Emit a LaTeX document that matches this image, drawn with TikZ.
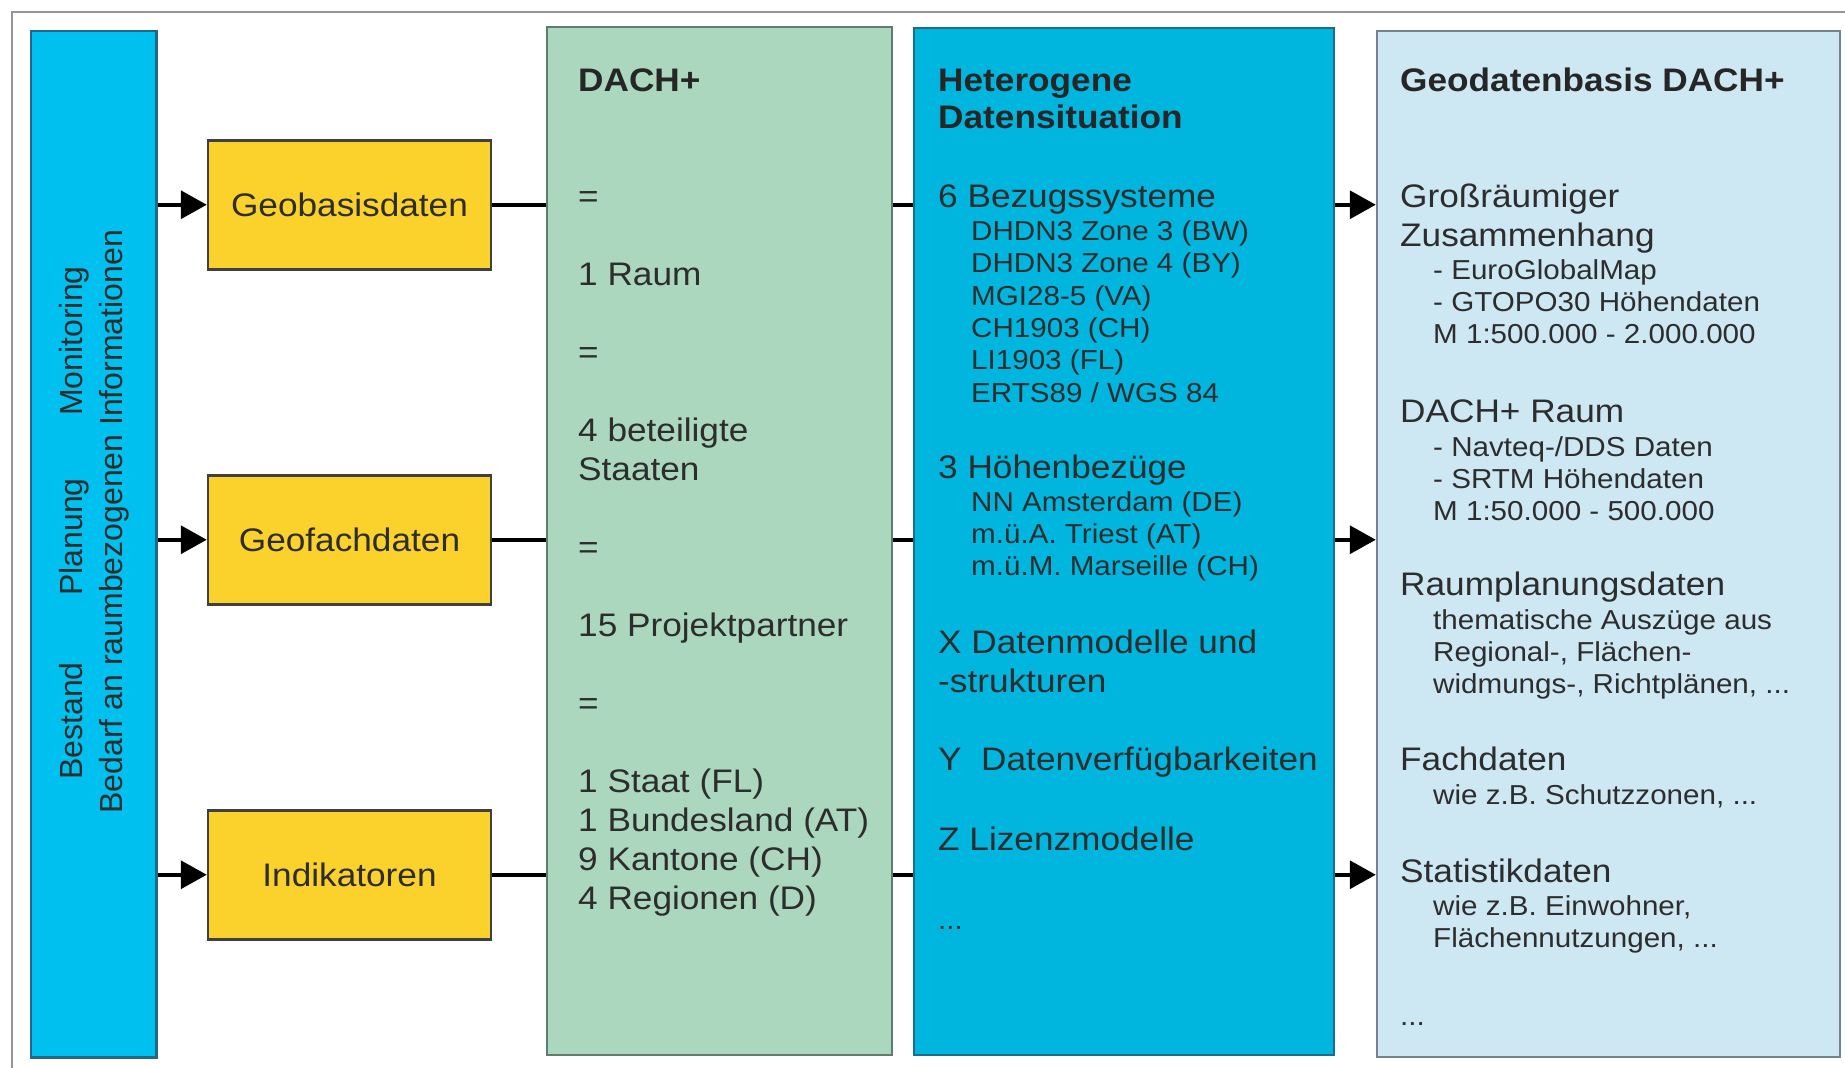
\documentclass[tikz,border=0pt]{standalone}
\usepackage{fontspec}
\setmainfont{Liberation Sans}[FakeStretch=1.08]
\newfontfamily\upfont{Liberation Sans}
\usepackage{xcolor}
\usepackage{tikz}
\usetikzlibrary{arrows.meta,positioning}

\definecolor{barblue}{RGB}{0,192,240}
\definecolor{barline}{RGB}{35,105,135}
\definecolor{geoyellow}{RGB}{251,209,43}
\definecolor{dachgreen}{RGB}{170,215,190}
\definecolor{dachline}{RGB}{95,125,110}
\definecolor{hetcyan}{RGB}{0,182,222}
\definecolor{hetline}{RGB}{25,110,140}
\definecolor{basislight}{RGB}{205,231,243}
\definecolor{basisline}{RGB}{115,130,140}
\definecolor{txtgray}{RGB}{45,45,45}
\definecolor{framegray}{RGB}{150,150,150}

\tikzset{
  tallbox/.style={draw, line width=2.5pt, inner sep=0pt},
  datbox/.style={draw=black!75, fill=geoyellow, line width=2.5pt, minimum width=283pt,
    minimum height=129pt, text=txtgray, font=\fontsize{32.6}{39}\selectfont},
  txt/.style={anchor=base west, inner sep=0pt, align=left, text=txtgray,
    font=\fontsize{32.6}{39}\selectfont},
  sub/.style={txt, font=\fontsize{27.4}{32.3}\selectfont},
  head/.style={txt, text=black!85, font=\bfseries\fontsize{32.6}{37.5}\selectfont},
  upright/.style={anchor=base, inner sep=0pt, rotate=90, text=txtgray,
    font=\upfont\fontsize{32}{38}\selectfont}
}

\begin{document}
\begin{tikzpicture}[x=1pt,y=-1pt,node distance=335pt,on grid,>={Triangle[length=26pt,width=28pt]},
    every edge/.style={draw, line width=3.5pt}]
   \useasboundingbox (0,0) rectangle (1845,1068);
   \clip (0,0) rectangle (1845,1068);
   \draw[framegray, line width=2pt] (12,12) rectangle (1900,1100);

   % columns
   \node[tallbox, fill=barblue, draw=barline, minimum width=125.5pt, minimum height=1026.5pt] (bar) at (93.75,544) {};
   \node[tallbox, fill=dachgreen, draw=dachline, minimum width=345pt, minimum height=1028pt] (dach) at (719.5,541) {};
   \node[tallbox, fill=hetcyan, draw=hetline, minimum width=420pt, minimum height=1027pt] (het) at (1124,541.5) {};
   \node[tallbox, fill=basislight, draw=basisline, minimum width=463pt, minimum height=1026pt] (basis) at (1608.5,544) {};

   \node[datbox] (geobasis) at (349.5,204.75) {Geobasisdaten};
   \node[datbox] (geofach) [below=of geobasis] {Geofachdaten};
   \node[datbox] (indik) [below=of geofach] {Indikatoren};

   % blue bar
   \node[upright] (bestand) at (82,721) {Bestand};
   \node[upright] (planung) at (82,537) {Planung};
   \node[upright] (monitor) at (82,341) {Monitoring};
   \node[upright] (bedarf) at (122,521.7) {Bedarf an raumbezogenen Informationen};

   % DACH+ (multi-line nodes sit on the base of their last line)
   \node[head] (dachhead) at (578,91) {DACH+};
   \node[txt] (dachtext) at (578,909.5) {=\\[39pt]1 Raum\\[39pt]=\\[39pt]4 beteiligte\\Staaten\\[39pt]=\\[39pt]15 Projektpartner\\[39pt]=\\[39pt]1 Staat (FL)\\1 Bundesland (AT)\\9 Kantone (CH)\\4 Regionen (D)};

   % Heterogene Datensituation
   \node[head] (hethead) at (938,128.5) {Heterogene\\Datensituation};
   \node[txt] (bezug) at (938,207.5) {6 Bezugssysteme};
   \node[sub] (bezuglist) at (971,402) {DHDN3 Zone 3 (BW)\\DHDN3 Zone 4 (BY)\\MGI28-5 (VA)\\CH1903 (CH)\\LI1903 (FL)\\ERTS89 / WGS 84};
   \node[txt] (hoehe) at (938,478.5) {3 Höhenbezüge};
   \node[sub] (hoehelist) at (971,575.6) {NN Amsterdam (DE)\\m.ü.A. Triest (AT)\\m.ü.M. Marseille (CH)};
   \node[txt] (modelle) at (938,692.5) {X Datenmodelle und\\-strukturen};
   \node[txt] (verfueg) at (938,770.5) {Y\ \ Datenverfügbarkeiten};
   \node[txt] (lizenz) at (938,850.5) {Z Lizenzmodelle};
   \node[sub] (hetdots) at (938,929) {...};

   % Geodatenbasis DACH+
   \node[head] (basishead) at (1400,91) {Geodatenbasis DACH+};
   \node[txt] (gross) at (1400,246.5) {Großräumiger\\Zusammenhang};
   \node[sub] (grosslist) at (1433,343.6) {- EuroGlobalMap\\- GTOPO30 Höhendaten\\M 1:500.000 - 2.000.000};
   \node[txt] (raum) at (1400,422) {DACH+ Raum};
   \node[sub] (raumlist) at (1433,520.6) {- Navteq-/DDS Daten\\- SRTM Höhendaten\\M 1:50.000 - 500.000};
   \node[txt] (planda) at (1400,595) {Raumplanungsdaten};
   \node[sub] (plandalist) at (1433,693.6) {thematische Auszüge aus\\Regional-, Flächen-\\widmungs-, Richtplänen, ...};
   \node[txt] (fach) at (1400,770.5) {Fachdaten};
   \node[sub] (fachlist) at (1433,804) {wie z.B. Schutzzonen, ...};
   \node[txt] (stat) at (1400,882) {Statistikdaten};
   \node[sub] (statlist) at (1433,947.3) {wie z.B. Einwohner,\\Flächennutzungen, ...};
   \node[sub] (basisdots) at (1400,1025) {...};

   \path
    (geobasis.west -| bar.east) edge[->] (geobasis)
    (geofach.west -| bar.east) edge[->] (geofach)
    (indik.west -| bar.east) edge[->] (indik)
    (geobasis) edge (geobasis.east -| dach.west)
    (geofach) edge (geofach.east -| dach.west)
    (indik) edge (indik.east -| dach.west)
    (dach.east |- geobasis) edge (het.west |- geobasis)
    (dach.east |- geofach) edge (het.west |- geofach)
    (dach.east |- indik) edge (het.west |- indik)
    (het.east |- geobasis) edge[->] (basis.west |- geobasis)
    (het.east |- geofach) edge[->] (basis.west |- geofach)
    (het.east |- indik) edge[->] (basis.west |- indik);
\end{tikzpicture}
\end{document}
